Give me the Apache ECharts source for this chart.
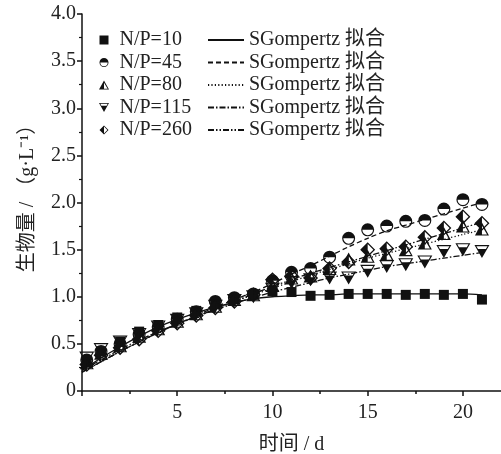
<!DOCTYPE html>
<html>
<head>
<meta charset="utf-8">
<script src="https://cdn.jsdelivr.net/npm/echarts@6/dist/echarts.min.js"></script>
<style>html,body{margin:0;padding:0;background:#fff}#c{width:501px;height:454px}</style>
</head>
<body>
<div id="c"></div>
<script>
// ---- data ----
const days = [0.25,1,2,3,4,5,6,7,8,9,10,11,12,13,14,15,16,17,18,19,20,21];
const np10  = [0.30,0.42,0.52,0.63,0.70,0.78,0.85,0.92,0.97,1.02,1.06,1.05,1.01,1.02,1.03,1.03,1.03,1.02,1.03,1.02,1.03,0.97];
const np45  = [0.33,0.42,0.50,0.60,0.68,0.76,0.84,0.95,0.99,1.03,1.17,1.26,1.30,1.42,1.62,1.71,1.75,1.80,1.81,1.93,2.03,1.98];
const np80  = [0.30,0.40,0.48,0.58,0.66,0.74,0.82,0.90,0.97,1.02,1.12,1.20,1.22,1.30,1.40,1.43,1.45,1.50,1.57,1.67,1.75,1.72];
const np115 = [0.35,0.44,0.52,0.60,0.68,0.75,0.82,0.90,0.96,1.00,1.08,1.15,1.18,1.20,1.20,1.27,1.32,1.34,1.37,1.48,1.50,1.48];
const np260 = [0.28,0.38,0.46,0.55,0.64,0.72,0.80,0.88,0.95,1.02,1.18,1.22,1.20,1.30,1.37,1.50,1.51,1.53,1.63,1.73,1.85,1.78];

const fitDays = [0,1,2,3,4,5,6,7,8,9,10,11,12,13,14,15,16,17,18,19,20,21];
const fit10  = [0.22,0.35,0.47,0.58,0.68,0.76,0.83,0.89,0.94,0.98,1.00,1.01,1.02,1.02,1.03,1.03,1.03,1.03,1.03,1.03,1.03,1.02];
const fit45  = [0.20,0.31,0.42,0.52,0.62,0.71,0.80,0.89,0.97,1.05,1.14,1.24,1.33,1.43,1.53,1.62,1.70,1.76,1.82,1.88,1.94,2.00];
const fit80  = [0.20,0.31,0.42,0.52,0.62,0.71,0.79,0.87,0.95,1.02,1.09,1.16,1.23,1.29,1.35,1.41,1.46,1.51,1.56,1.61,1.66,1.71];
const fit115 = [0.22,0.33,0.44,0.54,0.63,0.71,0.79,0.86,0.93,0.99,1.05,1.10,1.15,1.20,1.24,1.28,1.32,1.35,1.38,1.41,1.44,1.47];
const fit260 = [0.20,0.31,0.42,0.52,0.62,0.71,0.79,0.87,0.95,1.03,1.11,1.18,1.25,1.31,1.37,1.43,1.49,1.55,1.61,1.67,1.73,1.79];

const seriesNames = ['N/P=10','N/P=45','N/P=80','N/P=115','N/P=260'];
const fitNames = ['fit10','fit45','fit80','fit115','fit260'];
const fitLabel = 'SGompertz 拟合';
const xTicks = [0,5,10,15,20];
const xLabels = [5,10,15,20];
const xMinor = [2.5,7.5,12.5,17.5];

// ---- styling ----
const FONT = '"Liberation Serif","Noto Sans CJK SC",serif';
const INK = '#111';
const symbols = [
  'path://M0 0L20 0L20 20L0 20Z',
  'path://M10 0A10 10 0 1 1 10 20A10 10 0 1 1 10 0ZM1.8 10A8.2 8.2 0 0 0 18.2 10Z',
  'path://M10 0L20 18L0 18ZM10 4.5L10 16.6L17.3 16.6Z',
  'path://M0 0L20 0L10 18ZM2.6 1.6L4.8 5.6L15.2 5.6L17.4 1.6Z',
  'path://M10 0L20 10L10 20L0 10ZM10 2.4L10 17.6L17.6 10Z'
];
const symSizes = [10, 13, [14,13], [15,13], 15];
const dashes = ['solid', [5,3], [1.2,2.2], [6,2,1.5,2], [6,2,1.5,2,1.5,2]];
const pts = [np10,np45,np80,np115,np260];
const fits = [fit10,fit45,fit80,fit115,fit260];

const series = [];
fits.forEach((f, i) => {
  series.push({
    name: fitNames[i], type: 'line', smooth: 0.3, symbol: 'none', showSymbol: false, z: 2,
    data: fitDays.map((d, k) => [d, f[k]]),
    lineStyle: { color: INK, width: 1.3, type: dashes[i] },
    itemStyle: { color: INK }
  });
});
pts.forEach((p, i) => {
  series.push({
    name: seriesNames[i], type: 'scatter', z: 3,
    symbol: symbols[i], symbolSize: symSizes[i],
    data: days.map((d, k) => [d, p[k]]),
    itemStyle: { color: INK, opacity: 1 }
  });
});

const chart = echarts.init(document.getElementById('c'), null, { renderer: 'canvas' });
chart.setOption({
  animation: false,
  backgroundColor: '#fff',
  grid: { left: 82, right: 0, top: 14, bottom: 63, containLabel: false, outerBoundsMode: 'none' },
  legend: [
    {
      data: seriesNames, orient: 'vertical', left: 94, top: 25,
      itemWidth: 21, itemHeight: 9, itemGap: 2.5, selectedMode: false,
      textStyle: { fontFamily: FONT, fontSize: 20, color: '#222', lineHeight: 19 }
    },
    {
      data: fitNames.map(n => ({ name: n, itemStyle: { opacity: 0 } })),
      orient: 'vertical', left: 202, top: 25,
      itemWidth: 36, itemHeight: 9, itemGap: 2.5, selectedMode: false,
      formatter: fitLabel,
      itemStyle: { opacity: 0 },
      textStyle: { fontFamily: FONT, fontSize: 20, color: '#222', lineHeight: 19 }
    }
  ],
  xAxis: [
    {
      type: 'value', min: 0, max: 22, interval: 5,
      axisLine: { show: true, onZero: false, lineStyle: { color: INK, width: 1.5 } },
      axisTick: { show: true, customValues: xTicks, length: 5, lineStyle: { color: INK, width: 1.5 } },
      axisLabel: { customValues: xLabels, fontFamily: FONT, fontSize: 20, color: '#222', margin: 12 },
      splitLine: { show: false },
      name: '时间 / d', nameLocation: 'middle', nameGap: 44,
      nameTextStyle: { fontFamily: FONT, fontSize: 20, color: '#222' }
    },
    {
      type: 'value', min: 0, max: 22, position: 'bottom', offset: 0,
      axisLine: { show: false },
      axisTick: { show: true, customValues: xMinor, length: 3, lineStyle: { color: INK, width: 1.5 } },
      axisLabel: { show: false },
      splitLine: { show: false }
    }
  ],
  yAxis: {
    type: 'value', min: 0, max: 4, interval: 0.5,
    axisLine: { show: true, onZero: false, lineStyle: { color: INK, width: 1.5 } },
    axisTick: { show: true, length: 5, lineStyle: { color: INK, width: 1.5 } },
    minorTick: { show: true, splitNumber: 2, length: 3, lineStyle: { color: INK, width: 1.2 } },
    axisLabel: {
      fontFamily: FONT, fontSize: 20, color: '#222', margin: 6,
      formatter: v => v === 0 ? '0' : v.toFixed(1)
    },
    splitLine: { show: false },
    name: '生物量 / （g·L⁻¹）', nameLocation: 'middle', nameGap: 44, nameRotate: 90,
    nameTextStyle: { fontFamily: FONT, fontSize: 20, color: '#222', padding: [0, 0, 0, 18] }
  },
  series: series
});
</script>
</body>
</html>
